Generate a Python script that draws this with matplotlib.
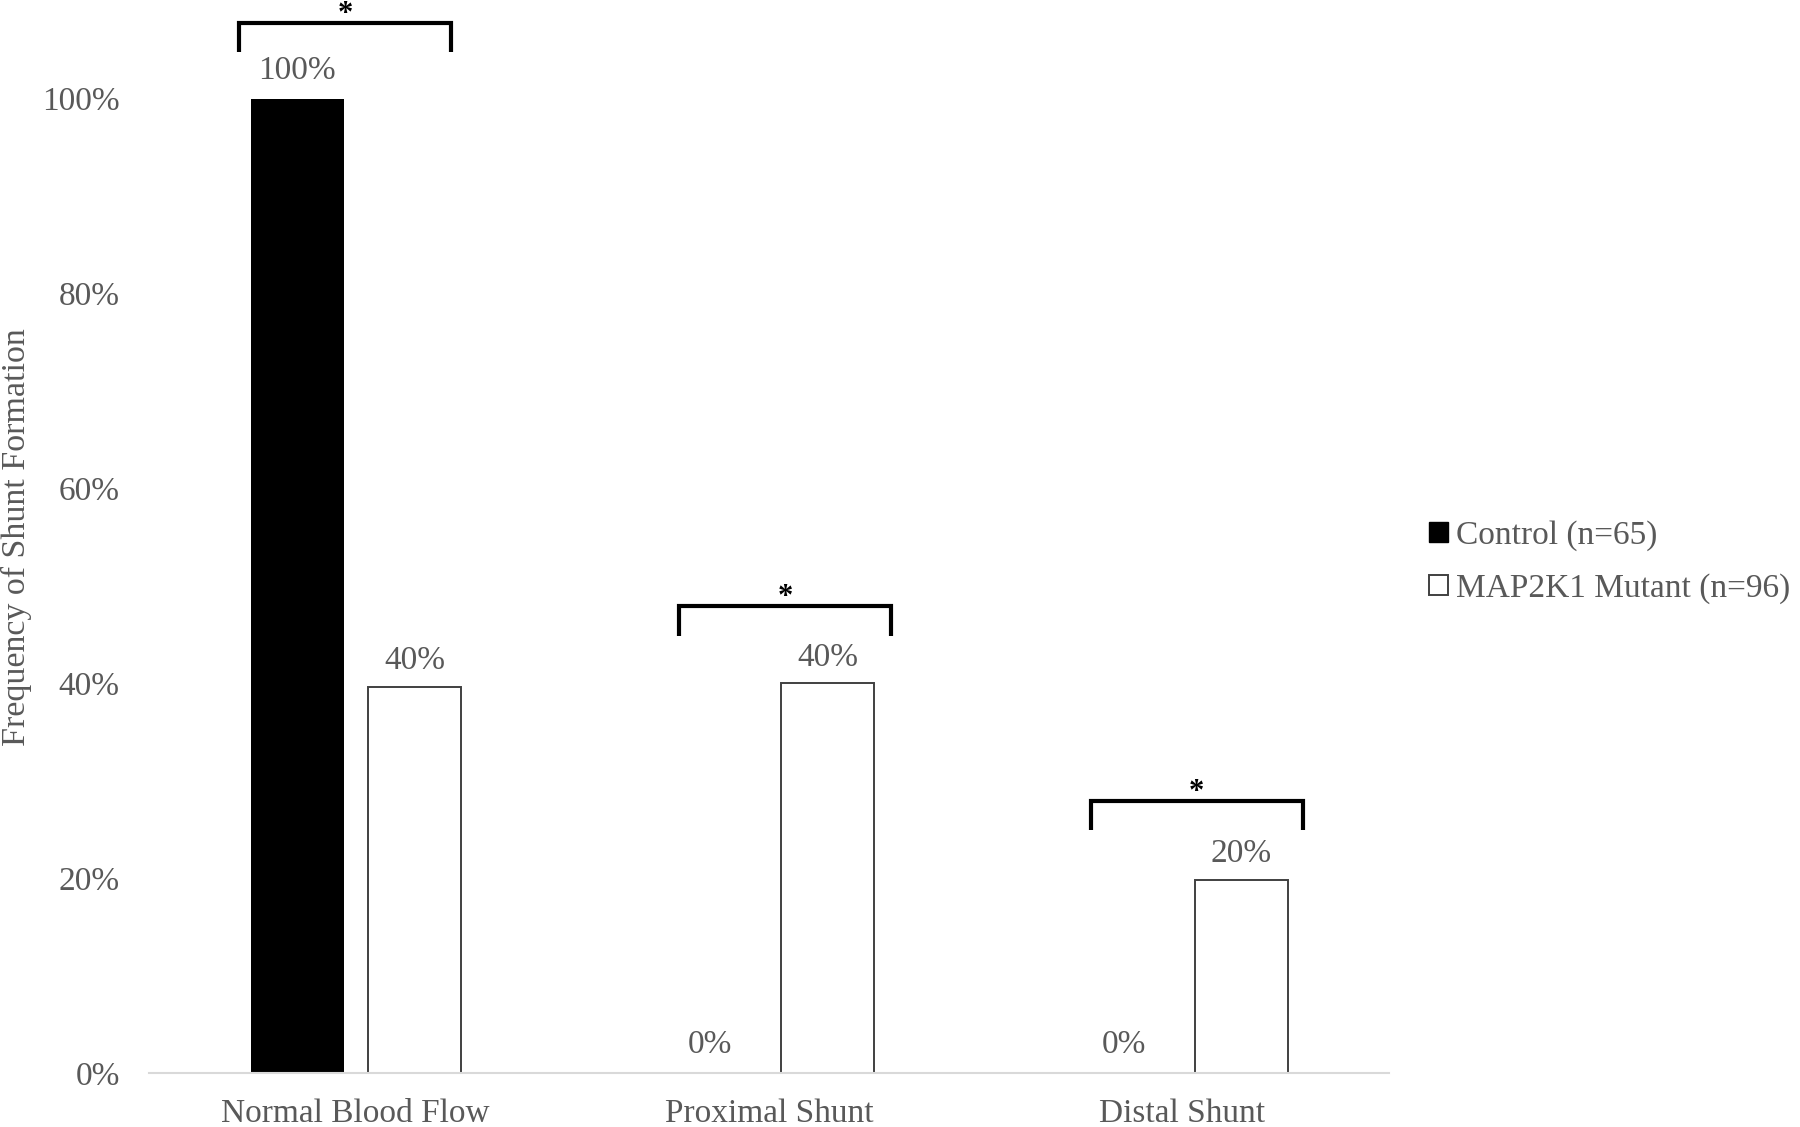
import matplotlib
matplotlib.use("Agg")
import matplotlib.pyplot as plt
from matplotlib.patches import Patch
import numpy as np

categories = ["Normal Blood Flow", "Proximal Shunt", "Distal Shunt"]
control = [100.0, 0.0, 0.0]
mutant = [39.6, 40.0, 19.8]
series_names = ["Control (n=65)", "MAP2K1 Mutant (n=96)"]
yticks = [0, 20, 40, 60, 80, 100]
sig_marks = ["*", "*", "*"]
bracket_top = [107.8, 47.9, 27.9]
bracket_left = [-0.283, 0.783, 1.778]
bracket_right = [0.231, 1.294, 2.292]

plt.rcParams['font.family'] = ['Liberation Serif', 'DejaVu Serif']
TXT = '#595959'

fig = plt.figure(figsize=(18, 11.27), dpi=100)
ax = fig.add_axes([0.0828, 0.0479, 0.7717 - 0.0828, 0.9124 - 0.0479])

x = np.arange(len(categories))
w = 0.225
off = 0.142
ax.bar(x - off, control, w, color='black', edgecolor='black', linewidth=0)
ax.bar(x + off, mutant, w, color='white', edgecolor='#404040', linewidth=1.4)

for xi, v in zip(x - off, control):
    ax.text(xi, v + 1.3, f"{round(v):.0f}%", ha='center', va='bottom', fontsize=24, color=TXT)
for xi, v in zip(x + off, mutant):
    ax.text(xi, v + 1.1, f"{round(v):.0f}%", ha='center', va='bottom', fontsize=24, color=TXT)

for x0, x1, top, mark in zip(bracket_left, bracket_right, bracket_top, sig_marks):
    ax.plot([x0, x0, x1, x1], [top - 3.0, top, top, top - 3.0], color='black', lw=3,
            clip_on=False, solid_joinstyle='miter', solid_capstyle='butt')
    ax.text((x0 + x1) / 2, top + 0.1, mark, ha='center', va='baseline', fontsize=22,
            fontweight='bold', color='black', clip_on=False)

ax.set_xlim(-0.5, 2.5)
ax.set_ylim(0, 100)
ax.set_yticks(yticks)
ax.set_yticklabels([f"{t}%" for t in yticks])
ax.set_xticks(x)
ax.set_xticklabels(categories)
ax.tick_params(axis='y', length=0, pad=21, labelsize=24, labelcolor=TXT)
ax.tick_params(axis='x', length=0, pad=18.5, labelsize=24, labelcolor=TXT)
for s in ['top', 'right', 'left']:
    ax.spines[s].set_visible(False)
ax.spines['bottom'].set_color('#d9d9d9')
ax.spines['bottom'].set_linewidth(1.5)

ax.set_ylabel("Frequency of Shunt Formation", fontsize=24.5, color=TXT)
ax.yaxis.label.set_va('center')
ax.yaxis.set_label_coords(-0.107, 0.55)

handles = [Patch(facecolor='black', edgecolor='black'),
           Patch(facecolor='white', edgecolor='#404040', linewidth=1.4)]
leg = fig.legend(handles, series_names, loc='center left', bbox_to_anchor=(0.794, 0.5012),
                 frameon=False, fontsize=24, handlelength=0.55, handleheight=0.55,
                 handletextpad=0.25, labelspacing=0.65, borderpad=0, borderaxespad=0)
for t in leg.get_texts():
    t.set_color(TXT)

fig.savefig("out.png", dpi=100)
